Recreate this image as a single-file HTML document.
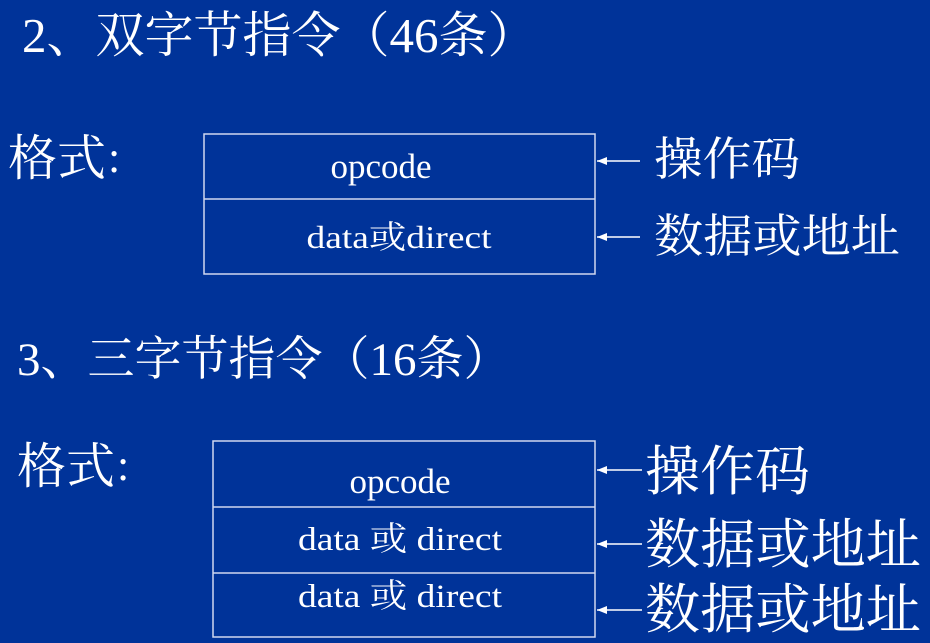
<!DOCTYPE html>
<html><head><meta charset="utf-8"><style>
html,body{margin:0;padding:0;background:#003399;}
svg{display:block}
text{fill:#fff;font-family:"Liberation Serif","Noto Serif CJK SC",serif;}
</style></head><body>
<svg width="930" height="643" viewBox="0 0 930 643">
<rect width="930" height="643" fill="#003399"/>
<defs><marker id="a" markerWidth="10" markerHeight="8" refX="10" refY="4" orient="auto" markerUnits="userSpaceOnUse"><path d="M10,4 L0,0 L0,8 Z" fill="#fff"/></marker></defs>
<text x="22" y="52" font-size="49">2、双字节指令（46条）</text>
<text x="8" y="175" font-size="49">格式</text>
<text x="108" y="172" font-size="44">:</text>
<g fill="none" stroke="#d0d8f0" stroke-width="1.5">
<rect x="204" y="134" width="391" height="140"/>
<line x1="204" y1="199" x2="595" y2="199"/>
<rect x="213" y="441" width="382" height="196"/>
<line x1="213" y1="507" x2="595" y2="507"/>
<line x1="213" y1="573" x2="595" y2="573"/>
</g>
<text x="381" y="178" font-size="35" text-anchor="middle">opcode</text>
<text x="399" y="248" font-size="32" text-anchor="middle" textLength="185" lengthAdjust="spacingAndGlyphs">data或direct</text>
<g stroke="#fff" stroke-width="1.5" marker-end="url(#a)">
<line x1="640" y1="161" x2="597" y2="161"/>
<line x1="640" y1="237" x2="597" y2="237"/>
<line x1="642" y1="470" x2="597" y2="470"/>
<line x1="642" y1="544" x2="597" y2="544"/>
<line x1="642" y1="610" x2="597" y2="610"/>
</g>
<text x="654" y="175" font-size="46" textLength="146" lengthAdjust="spacingAndGlyphs">操作码</text>
<text x="654" y="252" font-size="46" textLength="246" lengthAdjust="spacingAndGlyphs">数据或地址</text>
<text x="17" y="375" font-size="47">3、三字节指令（16条）</text>
<text x="17" y="483" font-size="49">格式</text>
<text x="117" y="480" font-size="44">:</text>
<text x="400" y="493" font-size="35" text-anchor="middle">opcode</text>
<text x="400" y="550" font-size="33" text-anchor="middle" textLength="204" lengthAdjust="spacingAndGlyphs">data 或 direct</text>
<text x="400" y="607" font-size="33" text-anchor="middle" textLength="204" lengthAdjust="spacingAndGlyphs">data 或 direct</text>
<text x="645" y="490" font-size="54" textLength="165" lengthAdjust="spacingAndGlyphs">操作码</text>
<text x="645" y="563" font-size="54" textLength="276" lengthAdjust="spacingAndGlyphs">数据或地址</text>
<text x="645" y="628" font-size="54" textLength="276" lengthAdjust="spacingAndGlyphs">数据或地址</text>
</svg>
</body></html>
